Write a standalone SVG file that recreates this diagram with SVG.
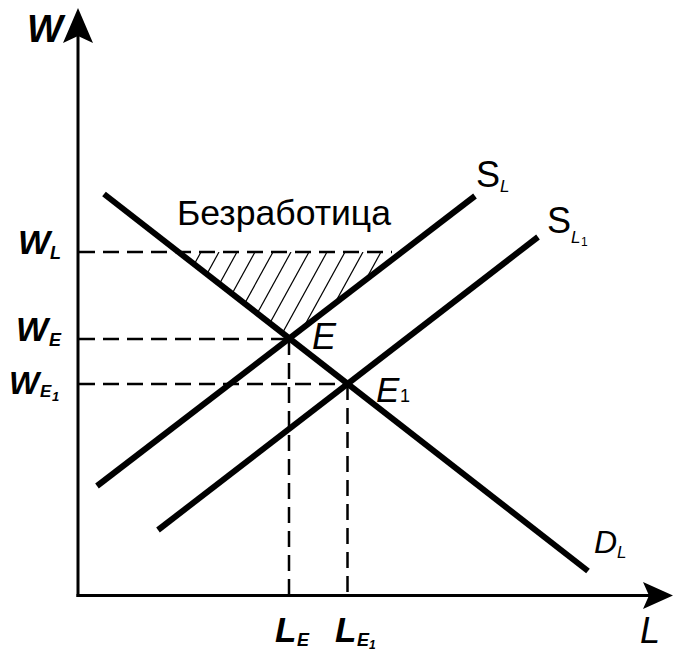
<svg xmlns="http://www.w3.org/2000/svg" width="675" height="653" viewBox="0 0 675 653">
<style>
.ax{stroke:#000;stroke-width:3;fill:none}
.crv{stroke:#000;stroke-width:6;fill:none;stroke-linecap:butt}
.dash{stroke:#000;stroke-width:2.5;fill:none;stroke-dasharray:16 8}
.hatch{stroke:#000;stroke-width:1.2}
text{font-family:"Liberation Sans",Arial,sans-serif;fill:#000}
.bi{font-weight:bold;font-style:italic}
.it{font-style:italic}
</style>
<defs>
<clipPath id="tri"><polygon points="178.5,252 402,252 289.4,338.4"/></clipPath>
</defs>
<rect width="675" height="653" fill="#fff"/>
<g id="hatching" clip-path="url(#tri)">
<line class="hatch" x1="201" y1="252" x2="146" y2="352"/>
<line class="hatch" x1="219" y1="252" x2="164" y2="352"/>
<line class="hatch" x1="237" y1="252" x2="182" y2="352"/>
<line class="hatch" x1="255" y1="252" x2="200" y2="352"/>
<line class="hatch" x1="273" y1="252" x2="218" y2="352"/>
<line class="hatch" x1="291" y1="252" x2="236" y2="352"/>
<line class="hatch" x1="309" y1="252" x2="254" y2="352"/>
<line class="hatch" x1="327" y1="252" x2="272" y2="352"/>
<line class="hatch" x1="345" y1="252" x2="290" y2="352"/>
<line class="hatch" x1="363" y1="252" x2="308" y2="352"/>
<line class="hatch" x1="381" y1="252" x2="326" y2="352"/>
<line class="hatch" x1="399" y1="252" x2="344" y2="352"/>
</g>
<g id="connectors">
<line class="dash" x1="79" y1="252" x2="392" y2="252"/>
<line class="dash" x1="79" y1="339" x2="289" y2="339"/>
<line class="dash" x1="79" y1="384" x2="347.5" y2="384"/>
<line class="dash" x1="289" y1="339" x2="289" y2="594"/>
<line class="dash" x1="347.5" y1="384" x2="347.5" y2="594"/>
</g>
<g id="axes">
<line class="ax" x1="78" y1="597" x2="78" y2="34"/>
<polygon points="78,8 63,43 78,36 93,43" fill="#000"/>
<line class="ax" x1="76.5" y1="595.5" x2="650" y2="595.5"/>
<polygon points="673,595.5 643,582 649,595.5 643,609" fill="#000"/>
</g>
<g id="curve-DL"><line class="crv" x1="104" y1="194" x2="588" y2="571"/></g>
<g id="curve-SL"><line class="crv" x1="97" y1="486" x2="475" y2="196"/></g>
<g id="curve-SL1"><line class="crv" x1="158" y1="530" x2="538" y2="237"/></g>
<g id="labels">
<text class="bi" x="27" y="42" font-size="38">W</text>
<text class="bi" x="18" y="254" font-size="34">W</text>
<text class="bi" x="50" y="259" font-size="18">L</text>
<text class="bi" x="16" y="341" font-size="34">W</text>
<text class="bi" x="49" y="346" font-size="18">E</text>
<text class="bi" x="9" y="394" font-size="32">W</text>
<text class="bi" x="40" y="397" font-size="17">E</text>
<text class="bi" x="52" y="401" font-size="13">1</text>
<text x="476" y="187" font-size="36">S</text>
<text class="it" x="500" y="192" font-size="17">L</text>
<text x="547" y="233" font-size="36">S</text>
<text class="it" x="571" y="243" font-size="17">L</text>
<text x="581" y="246" font-size="12">1</text>
<text class="it" x="312" y="349" font-size="36">E</text>
<text class="it" x="376" y="402" font-size="35">E</text>
<text x="400" y="402" font-size="18">1</text>
<text class="it" x="594" y="553" font-size="32">D</text>
<text class="it" x="617" y="558" font-size="17">L</text>
<text class="bi" x="275" y="642" font-size="35">L</text>
<text class="bi" x="297" y="646" font-size="18">E</text>
<text class="bi" x="335" y="642" font-size="35">L</text>
<text class="bi" x="357" y="646" font-size="18">E</text>
<text class="bi" x="369" y="649" font-size="12">1</text>
<text class="it" x="640" y="643" font-size="36">L</text>
<text x="177" y="225" font-size="35" textLength="214" lengthAdjust="spacingAndGlyphs">Безработица</text>
</g>
</svg>
